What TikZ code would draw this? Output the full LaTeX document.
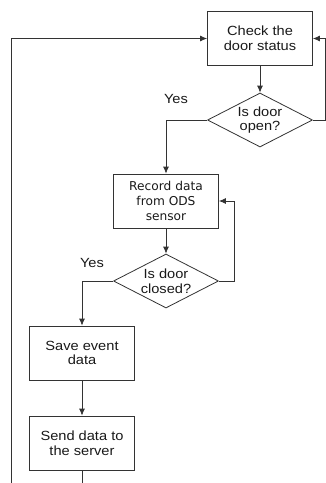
\documentclass[tikz,border=0pt]{standalone}
\usepackage{fontspec}
\usepackage{tikz}
\usetikzlibrary{arrows.meta}
\usetikzlibrary{shapes.geometric}
\newfontfamily\boxfont[FakeStretch=1.1]{Liberation Sans}
\newfontfamily\odsfont{DejaVu Sans}
\tikzset{
  >={Latex[length=7pt,width=6pt]},
  line/.style = {draw=black!80, line width=0.8pt},
  process/.style = {rectangle, line, minimum width=105pt, minimum height=54pt,
    align=center, inner sep=0pt, text=black!90,
    font=\boxfont\fontsize{13.3}{14.8}\selectfont},
  decision/.style = {diamond, line, minimum width=105pt, minimum height=54pt,
    inner sep=0pt},
  decisiontext/.style = {align=center, inner sep=0pt, text=black!90,
    font=\boxfont\fontsize{13.3}{14.8}\selectfont},
  answer/.style = {text=black!90, inner sep=0pt,
    font=\boxfont\fontsize{13.3}{14.8}\selectfont},
}
\begin{document}
\begin{tikzpicture}[x=1pt, y=-1pt]
    \useasboundingbox (0,0) rectangle (326,483);
    \node [process] (check) at (260,38.5) {Check the\\door status};
    \node [decision] (open) at (260,120) {};
    \node [decisiontext] (opentxt) at (open) {Is door\\open?};
    \node [process, font=\odsfont\fontsize{12.2}{15}\selectfont] (record) at (166,201) {Record data\\from ODS\\sensor};
    \node [decision] (closed) at (166,281) {};
    \node [decisiontext] (closedtxt) at (closed) {Is door\\closed?};
    \node [process] (save) at (82,353) {Save event\\data};
    \node [process] (send) at (82,443) {Send data to\\the server};
    \node [answer] (yes1) at (176,99) {Yes};
    \node [answer] (yes2) at (92,263) {Yes};
    \coordinate (leftend) at (11,483);
    \coordinate (rightturn) at (325,120);
    \coordinate (sendend) at (82,483);
    \draw [line, ->] (leftend) |- (check.west);
    \draw [line, ->] (open.east) -- (rightturn) |- (check.east);
    \draw [line, ->] (check) -- (open);
    \draw [line, ->] (open.west) -| (record.north);
    \draw [line, ->] (record) -- (closed);
    \draw [line, ->] (closed.east) -- ++(15,0) |- (record.east);
    \draw [line, ->] (closed.west) -| (save.north);
    \draw [line, ->] (save) -- (send);
    \draw [line] (send) -- (sendend);
  \end{tikzpicture}
\end{document}
